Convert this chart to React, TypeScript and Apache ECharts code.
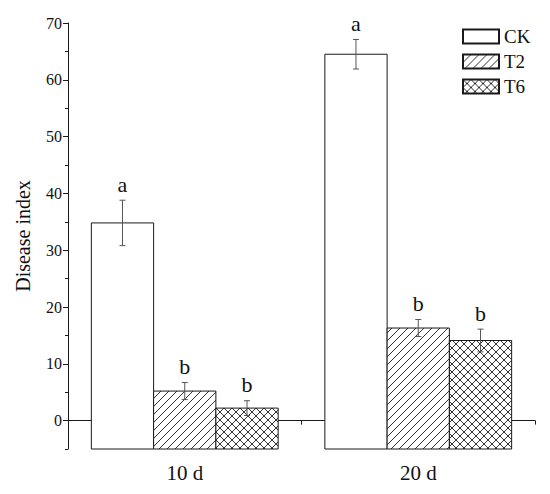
import React, { useEffect, useRef } from "react";
import * as echarts from "echarts";

// Sampling days and treatments
const categories = ["10 d", "20 d"];
const seriesNames = ["CK", "T2", "T6"];

// Disease index means and standard errors per treatment
const ckValues = [34.8, 64.5];
const ckErrors = [4.0, 2.6];
const t2Values = [5.2, 16.3];
const t2Errors = [1.5, 1.5];
const t6Values = [2.2, 14.1];
const t6Errors = [1.3, 2.0];

// Significance letters above each bar
const ckLetters = ["a", "a"];
const t2Letters = ["b", "b"];
const t6Letters = ["b", "b"];

// Axis ticks
const axisMin = -5;
const axisMax = 70;
const majorTicks = [0, 10, 20, 30, 40, 50, 60, 70];
const minorTicks = [-5, 5, 15, 25, 35, 45, 55, 65];

const FONT = "'Liberation Serif', 'Times New Roman', serif";
const INK = "#1a1a1a";
const GROUP_SHARE = 0.8; // share of each category taken by its three bars

function makeHatch(kind: "diag" | "cross"): HTMLCanvasElement {
  const size = 8;
  const c = document.createElement("canvas");
  c.width = size;
  c.height = size;
  const ctx = c.getContext("2d")!;
  ctx.fillStyle = "#ffffff";
  ctx.fillRect(0, 0, size, size);
  ctx.strokeStyle = "#333";
  ctx.lineWidth = 1;
  ctx.beginPath();
  // "/" strokes, with corner pieces so the tiles join seamlessly
  ctx.moveTo(-1, size + 1);
  ctx.lineTo(size + 1, -1);
  ctx.moveTo(-1, 1);
  ctx.lineTo(1, -1);
  ctx.moveTo(size - 1, size + 1);
  ctx.lineTo(size + 1, size - 1);
  if (kind === "cross") {
    ctx.moveTo(-1, -1);
    ctx.lineTo(size + 1, size + 1);
    ctx.moveTo(size - 1, -1);
    ctx.lineTo(size + 1, 1);
    ctx.moveTo(-1, size - 1);
    ctx.lineTo(1, size + 1);
  }
  ctx.stroke();
  return c;
}

export default function App() {
  const ref = useRef<HTMLDivElement>(null);

  useEffect(() => {
    if (!ref.current) return;
    const chart = echarts.init(ref.current, undefined, { renderer: "svg" });

    const diag = makeHatch("diag");
    const cross = makeHatch("cross");

    const valueSets = [ckValues, t2Values, t6Values];
    const errorSets = [ckErrors, t2Errors, t6Errors];
    const letterSets = [ckLetters, t2Letters, t6Letters];
    const fills: any[] = [
      "#ffffff",
      { image: diag, repeat: "repeat" },
      { image: cross, repeat: "repeat" },
    ];

    // Bars rise from the bottom of the value axis, so they are drawn as custom rects
    const barSeries = seriesNames.map((name, si) => ({
      name,
      type: "custom",
      xAxisIndex: 0,
      yAxisIndex: 0,
      z: 2,
      silent: true,
      itemStyle: { color: fills[si], borderColor: INK, borderWidth: 1 },
      data: valueSets[si].map((v, ci) => [ci, v]),
      encode: { x: 0, y: 1 },
      renderItem: (params: any, api: any) => {
        const ci = api.value(0);
        const v = api.value(1);
        const catW = api.size([1, 0])[0];
        const barW = (catW * GROUP_SHARE) / 3;
        const top = api.coord([ci, v]);
        const base = api.coord([ci, axisMin]);
        const x0 = top[0] - 1.5 * barW + si * barW;
        return {
          type: "rect",
          shape: { x: x0, y: top[1], width: barW, height: base[1] - top[1] },
          style: { fill: fills[si], stroke: INK, lineWidth: 1 },
        };
      },
    }));

    // error bar rows: [category index, series index, mean, error]
    const errRows: number[][] = [];
    const errLetters: string[] = [];
    categories.forEach((_, ci) => {
      seriesNames.forEach((__, si) => {
        errRows.push([ci, si, valueSets[si][ci], errorSets[si][ci]]);
        errLetters.push(letterSets[si][ci]);
      });
    });

    const errorSeries = {
      type: "custom",
      name: "errors",
      xAxisIndex: 0,
      yAxisIndex: 0,
      z: 5,
      silent: true,
      data: errRows,
      encode: { x: 0, y: 2 },
      renderItem: (params: any, api: any) => {
        const ci = api.value(0);
        const si = api.value(1);
        const v = api.value(2);
        const e = api.value(3);
        const catW = api.size([1, 0])[0];
        const barW = (catW * GROUP_SHARE) / 3;
        const mid = api.coord([ci, v]);
        const x = mid[0] + (si - 1) * barW;
        const yTop = api.coord([ci, v + e])[1];
        const yBot = api.coord([ci, v - e])[1];
        const cap = 3;
        const ls = { stroke: "#555", lineWidth: 1 };
        return {
          type: "group",
          children: [
            { type: "line", shape: { x1: x, y1: yTop, x2: x, y2: yBot }, style: ls },
            { type: "line", shape: { x1: x - cap, y1: yTop, x2: x + cap, y2: yTop }, style: ls },
            { type: "line", shape: { x1: x - cap, y1: yBot, x2: x + cap, y2: yBot }, style: ls },
            {
              type: "text",
              x,
              y: yTop - 5,
              style: {
                text: errLetters[params.dataIndex],
                fontSize: 22,
                fontFamily: FONT,
                fill: "#111",
                align: "center",
                verticalAlign: "bottom",
              },
            },
          ],
        };
      },
    };

    chart.setOption({
      animation: false,
      backgroundColor: "#ffffff",
      grid: { left: 68, right: 15, top: 23, bottom: 45, containLabel: false },
      legend: {
        data: seriesNames,
        orient: "vertical",
        left: 457,
        top: 22,
        icon: "rect",
        itemWidth: 36,
        itemHeight: 14,
        itemGap: 6,
        selectedMode: false,
        textStyle: { fontSize: 19, fontFamily: FONT, color: "#111" },
      },
      xAxis: [
        {
          type: "category",
          data: categories,
          axisLine: { show: true, lineStyle: { color: INK, width: 1 } },
          axisTick: { show: true, alignWithLabel: true, length: 6, lineStyle: { color: INK } },
          axisLabel: { fontSize: 21, fontFamily: FONT, color: "#111", margin: 13 },
          splitLine: { show: false },
        },
        {
          type: "category",
          data: categories,
          position: "bottom",
          axisLine: { show: false },
          axisTick: { show: true, length: 4, lineStyle: { color: INK } },
          axisLabel: { show: false },
          splitLine: { show: false },
        },
      ],
      yAxis: [
        {
          type: "value",
          min: axisMin,
          max: axisMax,
          name: "Disease index",
          nameLocation: "middle",
          nameGap: 35,
          nameTextStyle: { fontSize: 20, fontFamily: FONT, color: "#111" },
          axisLine: { show: true, lineStyle: { color: INK, width: 1 } },
          axisTick: { show: true, length: 5, customValues: majorTicks, lineStyle: { color: INK } },
          axisLabel: {
            customValues: majorTicks,
            fontSize: 16,
            fontFamily: FONT,
            color: "#111",
            margin: 6,
          },
          splitLine: { show: false },
        },
        {
          type: "value",
          min: axisMin,
          max: axisMax,
          position: "left",
          axisLine: { show: false },
          axisTick: { show: true, length: 3, customValues: minorTicks, lineStyle: { color: INK } },
          axisLabel: { show: false },
          splitLine: { show: false },
        },
      ],
      series: [...barSeries, errorSeries],
    });

    return () => chart.dispose();
  }, []);

  return (
    <div
      ref={ref}
      style={{ position: "absolute", left: 0, top: 0, width: 550, height: 494 }}
    />
  );
}
